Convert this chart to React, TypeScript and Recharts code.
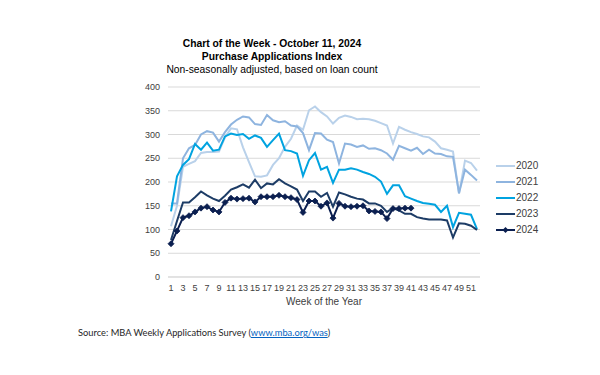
import React from 'react';
import { LineChart, Line, XAxis, YAxis, CartesianGrid, Legend } from 'recharts';

const weeks = [1,2,3,4,5,6,7,8,9,10,11,12,13,14,15,16,17,18,19,20,21,22,23,24,25,26,27,28,29,30,31,32,33,34,35,36,37,38,39,40,41,42,43,44,45,46,47,48,49,50,51,52];

const s2020 = [107,150,232,238,244,261,263,263,264,294,313,311,273,242,212,211,214,236,250,274,291,319,310,351,359,347,338,323,335,340,337,332,333,332,329,324,319,281,316,310,305,301,296,294,285,271,268,264,175,245,240,224];
const s2021 = [155,155,250,271,278,300,307,304,285,305,321,331,338,336,322,320,341,330,326,328,319,317,303,267,303,302,289,284,239,281,279,274,277,270,271,267,260,247,276,271,266,272,259,268,260,259,254,253,177,226,215,203];
const s2022 = [138,212,236,248,280,268,283,266,268,296,302,299,301,291,298,293,274,288,302,267,265,260,213,246,261,226,232,198,226,226,229,226,221,217,211,201,175,193,193,170,165,160,156,154,152,137,150,105,135,133,131,101];
const s2023 = [78,118,157,157,168,180,172,165,160,171,184,189,195,188,205,187,197,195,206,197,191,184,160,180,180,169,177,148,178,174,169,165,163,155,155,150,137,145,140,133,133,126,123,121,121,121,119,83,113,112,108,99];
const s2024 = [70,97,125,129,137,145,148,141,137,157,166,164,165,166,158,169,169,169,172,169,167,163,136,160,160,149,156,124,155,149,148,149,150,139,138,137,123,144,144,145,145];

const seriesNames = ['2020', '2021', '2022', '2023', '2024'];
const seriesValues = [s2020, s2021, s2022, s2023, s2024];
const colors = ['#b9d1ea', '#8eb4df', '#00a3e0', '#1d3c66', '#0b1f50'];

const xTicks = [1,3,5,7,9,11,13,15,17,19,21,23,25,27,29,31,33,35,37,39,41,43,45,47,49,51];
const yTicks = [0,50,100,150,200,250,300,350,400];

const titleLines = ['Chart of the Week - October 11, 2024', 'Purchase Applications Index', 'Non-seasonally adjusted, based on loan count'];

const data = weeks.map((w, i) => {
  const row: Record<string, number | undefined> = { week: w };
  seriesNames.forEach((n, k) => {
    row['y' + n] = seriesValues[k][i];
  });
  return row;
});

const FONT = '"Liberation Sans", Arial, sans-serif';

const Diamond = (props: any) => {
  const { cx, cy, index } = props;
  if (cx == null || cy == null) return <g key={'d' + index} />;
  const r = 3;
  return (
    <path
      key={'d' + index}
      d={`M${cx},${cy - r} L${cx + r},${cy} L${cx},${cy + r} L${cx - r},${cy} Z`}
      fill={colors[4]}
      stroke={colors[4]}
      strokeWidth={0.8}
    />
  );
};

const renderLegend = () => (
  <div style={{ fontFamily: FONT, fontSize: 10, color: '#404040' }}>
    {seriesNames.map((n, i) => (
      <div key={n} style={{ display: 'flex', alignItems: 'center', height: 16 }}>
        <svg width={20} height={8} style={{ display: 'block' }}>
          <line x1={0} x2={19} y1={4} y2={4} stroke={colors[i]} strokeWidth={2} />
          {i === 4 && <path d="M9.5,1 L12.5,4 L9.5,7 L6.5,4 Z" fill={colors[i]} />}
        </svg>
        <span style={{ lineHeight: '16px' }}>{n}</span>
      </div>
    ))}
  </div>
);

export default function App() {
  return (
    <div style={{ position: 'absolute', left: 0, top: 0, width: 600, height: 375, background: '#fff', overflow: 'hidden' }}>
      <div
        style={{
          position: 'absolute',
          left: 72,
          top: 38,
          width: 400,
          textAlign: 'center',
          fontFamily: FONT,
          fontSize: 10.3,
          lineHeight: '12.8px',
          color: '#000',
        }}
      >
        <div style={{ fontWeight: 'bold' }}>{titleLines[0]}</div>
        <div style={{ fontWeight: 'bold' }}>{titleLines[1]}</div>
        <div>{titleLines[2]}</div>
      </div>
      <LineChart
        width={600}
        height={375}
        data={data}
        margin={{ top: 87, right: 120, bottom: 68, left: 68 }}
      >
        <CartesianGrid vertical={false} stroke="#d9d9d9" strokeWidth={1} />
        <XAxis
          dataKey="week"
          type="number"
          domain={[0.5, 52.5]}
          ticks={xTicks}
          interval={0}
          height={30}
          axisLine={{ stroke: '#d9d9d9' }}
          tickLine={false}
          tick={{ fontSize: 9, fill: '#404040', fontFamily: FONT }}
          label={{ value: 'Week of the Year', position: 'insideBottom', offset: 2, fontSize: 10, fill: '#404040', fontFamily: FONT }}
        />
        <YAxis
          type="number"
          domain={[0, 400]}
          ticks={yTicks}
          width={40}
          axisLine={false}
          tickLine={false}
          tick={{ fontSize: 9, fill: '#404040', fontFamily: FONT }}
        />
        <Legend
          layout="vertical"
          verticalAlign="top"
          align="left"
          content={renderLegend}
          wrapperStyle={{ position: 'absolute', left: 496, top: 158, width: 60 }}
        />
        {seriesNames.map((n, i) => (
          <Line
            key={n}
            dataKey={'y' + n}
            name={n}
            type="linear"
            stroke={colors[i]}
            strokeWidth={2}
            dot={i === 4 ? Diamond : false}
            activeDot={false}
            isAnimationActive={false}
          />
        ))}
      </LineChart>
      <div
        style={{
          position: 'absolute',
          left: 78,
          top: 326,
          fontFamily: 'Lato, "Liberation Sans", sans-serif',
          fontSize: 9.3,
          lineHeight: '14px',
          color: '#262626',
          whiteSpace: 'nowrap',
        }}
      >
        Source: MBA Weekly Applications Survey (
        <span style={{ color: '#0563c1', textDecoration: 'underline' }}>www.mba.org/was</span>)
      </div>
    </div>
  );
}
